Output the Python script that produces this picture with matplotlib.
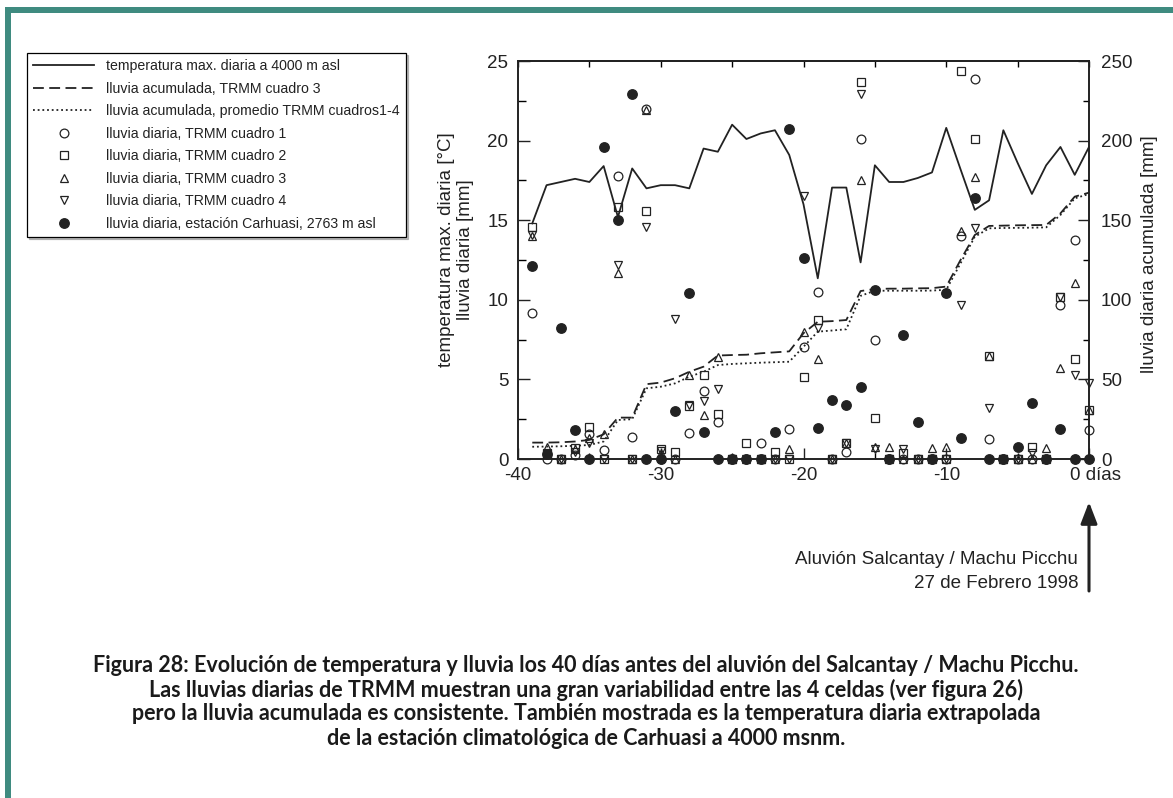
import matplotlib
matplotlib.use('Agg')
import matplotlib.pyplot as plt
from matplotlib.patches import Rectangle
from matplotlib.ticker import MultipleLocator, FixedLocator, FixedFormatter
from matplotlib.transforms import ScaledTranslation

# ---------------- data ----------------
days = list(range(-39, 1))

temp_max = [14.8, 17.2, 17.4, 17.6, 17.4, 18.4, 15.2, 18.25, 17.0, 17.2,
            17.2, 17.0, 19.5, 19.3, 21.0, 20.1, 20.45, 20.65, 19.1, 16.0,
            11.35, 17.05, 17.05, 12.35, 18.45, 17.4, 17.4, 17.65, 18.0, 20.8,
            18.2, 15.65, 16.25, 20.65, 18.6, 16.65, 18.45, 19.6, 17.85, 19.6]

acum_c3 = [10.3, 10.3, 10.5, 11.0, 12.0, 15.5, 26.0, 26.0, 47.0, 48.0,
           50.7, 54.8, 58.0, 65.0, 65.3, 65.5, 66.4, 67.0, 67.6, 79.0,
           86.2, 86.6, 87.3, 105.5, 106.8, 107.0, 107.0, 107.2, 107.3, 108.3,
           125.0, 140.7, 146.4, 146.6, 146.8, 146.9, 147.0, 154.3, 164.8, 167.3]

acum_prom = [7.7, 7.8, 8.0, 8.3, 8.8, 11.0, 24.5, 25.0, 44.4, 45.4,
             47.5, 51.7, 54.8, 59.0, 59.7, 60.1, 60.5, 60.8, 61.1, 70.5,
             80.0, 80.7, 81.5, 102.5, 105.7, 105.7, 105.7, 105.7, 105.8, 106.3,
             122.9, 139.6, 144.9, 145.1, 145.2, 145.3, 145.5, 153.3, 163.7, 166.5]

lluvia_c1 = [9.2, 0, 0, 0.25, 1.6, 0.55, 17.8, 1.4, 22.0, 0,
             0, 1.66, 4.3, 2.35, 0, 0, 1.03, 0, 1.86, 7.05,
             10.47, 0, 0.46, 20.1, 7.5, 0, 0, 0, 0, 0,
             14.0, 23.9, 1.24, 0, 0, 0, 0, 9.7, 13.75, 1.8]

lluvia_c2 = [14.6, 0.35, 0, 0.67, 2.0, 0, 15.85, 0, 15.6, 0.6,
             0.45, 3.3, 5.3, 2.85, 0, 1.0, 0, 0.46, 0, 5.17,
             8.7, 0, 1.0, 23.7, 2.6, 0, 0.35, 0, 0, 0,
             24.4, 20.1, 6.5, 0, 0, 0.73, 0, 10.2, 6.3, 3.1]

lluvia_c3 = [14.0, 0.77, 0, 0.6, 1.3, 1.55, 11.7, 0, 21.9, 0.4,
             0, 5.3, 2.75, 6.4, 0, 0, 0, 0, 0.6, 8.0,
             6.26, 0, 1.0, 17.5, 0.75, 0.77, 0, 0, 0.67, 0.77,
             14.3, 17.7, 6.5, 0, 0, 0, 0.67, 5.7, 11.07, 3.1]

lluvia_c4 = [14.1, 0.3, 0, 0.46, 1.0, 0, 12.2, 0, 14.6, 0.5,
             8.8, 3.4, 3.65, 4.4, 0, 0, 0, 0, 0, 16.5,
             8.2, 0, 1.0, 22.9, 0.6, 0, 0.65, 0, 0, 0,
             9.7, 14.5, 3.2, 0, 0, 0.35, 0, 10.2, 5.3, 4.75]

lluvia_carhuasi = [12.1, 0.3, 8.2, 1.8, 0, 19.6, 15.0, 22.9, 0, 0,
                   3.0, 10.4, 1.7, 0, 0, 0, 0, 1.7, 20.7, 12.6,
                   1.93, 3.7, 3.4, 4.5, 10.6, 0, 7.8, 2.3, 0, 10.4,
                   1.3, 16.4, 0, 0, 0.73, 3.5, 0, 1.9, 0, 0]

x_ticks = [-40, -30, -20, -10, 0]
x_ticklabels = ['-40', '-30', '-20', '-10', '0 días']

labels = ['temperatura max. diaria a 4000 m asl',
          'lluvia acumulada, TRMM cuadro 3',
          'lluvia acumulada, promedio TRMM cuadros1-4',
          'lluvia diaria, TRMM cuadro 1',
          'lluvia diaria, TRMM cuadro 2',
          'lluvia diaria, TRMM cuadro 3',
          'lluvia diaria, TRMM cuadro 4',
          'lluvia diaria, estación Carhuasi, 2763 m asl']

caption = ['Figura 28: Evolución de temperatura y lluvia los 40 días antes del aluvión del Salcantay / Machu Picchu.',
           'Las lluvias diarias de TRMM muestran una gran variabilidad entre las 4 celdas (ver figura 26)',
           'pero la lluvia acumulada es consistente. También mostrada es la temperatura diaria extrapolada',
           'de la estación climatológica de Carhuasi a 4000 msnm.']

# ---------------- figure ----------------
plt.rcParams['font.family'] = ['Liberation Sans', 'DejaVu Sans']
W, H = 1173, 798
fig = plt.figure(figsize=(W / 100, H / 100), dpi=100)
fig.patch.set_facecolor('white')


def fx(px):
    return px / W


def fy(py):
    return 1 - py / H


teal = '#3f8b80'
fig.add_artist(Rectangle((fx(5), fy(12.5)), 1, 6 / H, transform=fig.transFigure,
                         facecolor=teal, edgecolor='none'))
fig.add_artist(Rectangle((fx(5), 0), 6 / W, fy(6.5), transform=fig.transFigure,
                         facecolor=teal, edgecolor='none'))

ink = '#222222'
ax = fig.add_axes([fx(518), fy(459), (1089 - 518) / W, (459 - 61) / H])
ax2 = ax.twinx()

mk = dict(linestyle='none', color=ink, mfc='none', mew=0.9, clip_on=False)
h_temp, = ax.plot(days, temp_max, color=ink, lw=1.3, zorder=3)
h_c1, = ax.plot(days, lluvia_c1, marker='o', ms=6.3, **mk)
h_c2, = ax.plot(days, lluvia_c2, marker='s', ms=5.7, **mk)
h_c3, = ax.plot(days, lluvia_c3, marker='^', ms=6.3, **mk)
h_c4, = ax.plot(days, lluvia_c4, marker='v', ms=6.3, **mk)
h_ca, = ax.plot(days, lluvia_carhuasi, marker='o', ms=6.8, linestyle='none',
                color=ink, mec=ink, mfc=ink, clip_on=False)
h_a3, = ax2.plot(days, acum_c3, color=ink, lw=1.3, ls=(0, (6, 3)))
h_ap, = ax2.plot(days, acum_prom, color=ink, lw=1.3, ls=(0, (1, 1.6)))

ax.set_xlim(-40, 0)
ax.set_ylim(0, 25)
ax2.set_ylim(0, 250)

ax.xaxis.set_major_locator(FixedLocator(x_ticks))
ax.xaxis.set_major_formatter(FixedFormatter(x_ticklabels))
ax.xaxis.set_minor_locator(MultipleLocator(5))
ax.yaxis.set_major_locator(MultipleLocator(5))
ax.yaxis.set_minor_locator(MultipleLocator(2.5))
ax2.yaxis.set_major_locator(MultipleLocator(50))
ax2.yaxis.set_minor_locator(MultipleLocator(25))

ax.tick_params(axis='x', which='major', direction='in', length=8, width=1,
               pad=6, labelsize=13.5, colors=ink)
ax.tick_params(axis='x', which='minor', direction='in', length=4.5, width=1)
ax.tick_params(axis='y', which='major', direction='in', length=8.5, width=1,
               pad=7, labelsize=13.5, colors=ink)
ax.tick_params(axis='y', which='minor', direction='in', length=5.5, width=1)
ax2.tick_params(axis='y', which='major', direction='in', length=8, width=1,
                pad=8.5, labelsize=13.5, colors=ink)
ax2.tick_params(axis='y', which='minor', direction='in', length=4.5, width=1)

# the "0 días" label sits a little right of its tick in the reference
last = ax.xaxis.get_major_ticks()[-1].label1
last.set_transform(last.get_transform() + ScaledTranslation(5 / 72, 0, fig.dpi_scale_trans))

sec = ax.secondary_xaxis('top')
sec.set_xticks(list(range(-40, 1, 5)))
sec.set_xticklabels([])
sec.tick_params(direction='in', length=4.5, width=1)

for a in (ax, ax2):
    for s in a.spines.values():
        s.set_linewidth(1.2)
        s.set_color(ink)
for s in sec.spines.values():
    s.set_linewidth(1.2)
    s.set_color(ink)

fig.text(fx(456), fy(250), 'temperatura max. diaria [°C]\nlluvia diaria [mm]',
         rotation=90, ha='center', va='center', multialignment='center',
         fontsize=13.5, color=ink)
fig.text(fx(1150), fy(254), 'lluvia diaria acumulada [mm]', rotation=90,
         ha='center', va='center', fontsize=13.5, color=ink)

# arrow and event annotation
ax.annotate('', xy=(0, fy(502)), xycoords=('data', 'figure fraction'),
            xytext=(0, fy(591)), textcoords=('data', 'figure fraction'),
            arrowprops=dict(arrowstyle='-|>,head_length=0.65,head_width=0.25',
                            mutation_scale=20, lw=2.2, color=ink,
                            shrinkA=0, shrinkB=0))
fig.text(fx(1078), fy(560), 'Aluvión Salcantay / Machu Picchu', ha='right',
         va='center', fontsize=13.5, color=ink)
fig.text(fx(1078), fy(583), '27 de Febrero 1998', ha='right', va='center',
         fontsize=13.5, color=ink)

# legend
handles = [h_temp, h_a3, h_ap, h_c1, h_c2, h_c3, h_c4, h_ca]
leg = fig.legend(handles, labels, loc='upper left',
                 bbox_to_anchor=(fx(27), fy(53)), bbox_transform=fig.transFigure,
                 fontsize=10.2, frameon=True, fancybox=False,
                 shadow={'ox': 1.5, 'oy': -1.5, 'shade': 0.5},
                 edgecolor='black', handlelength=4.3, handletextpad=0.85,
                 labelspacing=0.6, borderpad=0.45, borderaxespad=0)
leg.get_frame().set_linewidth(0.9)
for t in leg.get_texts():
    t.set_color(ink)

# caption
for i, line in enumerate(caption):
    fig.text(fx(586), fy(665 + 24.5 * i), line, ha='center', va='center',
             fontsize=15.5, fontweight='bold', family=['Lato', 'DejaVu Sans'],
             color='#1a1a1a')

fig.savefig('out.png', dpi=100)
